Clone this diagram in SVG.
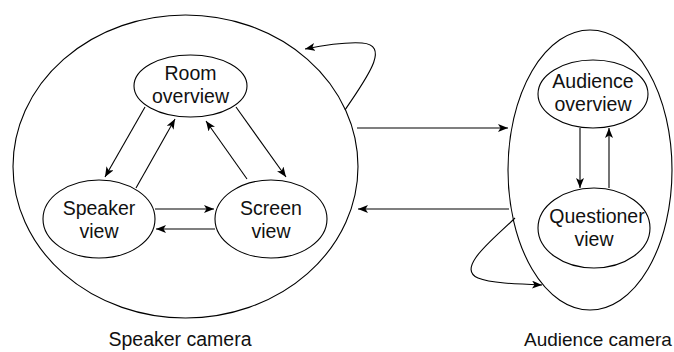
<svg xmlns="http://www.w3.org/2000/svg" width="674" height="352" viewBox="0 0 674 352">
  <defs>
    <marker id="arrow" viewBox="0 0 10 8" refX="10" refY="4" markerWidth="10" markerHeight="8" markerUnits="userSpaceOnUse" orient="auto">
      <path d="M0,0 L10,4 L0,8 L2.5,4 Z" fill="#000"/>
    </marker>
  </defs>
  <style>
    .shape { fill: #fff; stroke: #000; stroke-width: 1.1; }
    .edge { fill: none; stroke: #000; stroke-width: 1.1; marker-end: url(#arrow); }
    .label { font-family: "Liberation Sans", Arial, sans-serif; font-size: 19.5px; fill: #111; text-anchor: middle; }
  </style>
  <rect width="674" height="352" fill="#fff"/>

  <!-- camera groups -->
  <g id="speaker-camera">
    <ellipse class="shape" cx="185.5" cy="166.5" rx="172.5" ry="151.5"/>
    <text class="label" x="180" y="346">Speaker camera</text>
  </g>
  <g id="audience-camera">
    <ellipse class="shape" cx="590" cy="170" rx="82" ry="140"/>
    <text class="label" x="524" y="346" style="text-anchor:start;font-size:19px">Audience camera</text>
  </g>

  <!-- views -->
  <g id="room-overview">
    <ellipse class="shape" cx="190.5" cy="86" rx="56.5" ry="31"/>
    <text class="label" x="190.5" y="80">Room</text>
    <text class="label" x="190.5" y="103">overview</text>
  </g>
  <g id="speaker-view">
    <ellipse class="shape" cx="99" cy="219" rx="56" ry="39"/>
    <text class="label" x="99" y="215">Speaker</text>
    <text class="label" x="99" y="238">view</text>
  </g>
  <g id="screen-view">
    <ellipse class="shape" cx="271" cy="219" rx="56" ry="39"/>
    <text class="label" x="271" y="215">Screen</text>
    <text class="label" x="271" y="238">view</text>
  </g>
  <g id="audience-overview">
    <ellipse class="shape" cx="593" cy="94" rx="55" ry="34"/>
    <text class="label" x="593" y="88">Audience</text>
    <text class="label" x="593" y="111">overview</text>
  </g>
  <g id="questioner-view">
    <ellipse class="shape" cx="594" cy="228" rx="56" ry="40"/>
    <text class="label" x="597" y="223">Questioner</text>
    <text class="label" x="594" y="246">view</text>
  </g>

  <!-- transitions -->
  <g id="connectors">
    <path class="edge" d="M145,107 L105,177"/>
    <path class="edge" d="M136,188 L175,119"/>
    <path class="edge" d="M236,107 L286,177"/>
    <path class="edge" d="M247,179 L206,121"/>
    <path class="edge" d="M155,209 L214,209"/>
    <path class="edge" d="M215,229 L156,229"/>
    <path class="edge" d="M580,128 L580,188"/>
    <path class="edge" d="M609,188 L609,128"/>
    <path class="edge" d="M357,128 L508,128"/>
    <path class="edge" d="M509,209 L358,209"/>
    <path class="edge" d="M345,110 C365,80 392,45 362,43 C346,42 325,45 305,49"/>
    <path class="edge" d="M515,218 C495,238 455,268 478,278 C490,283 515,284 542,285"/>
  </g>
</svg>
